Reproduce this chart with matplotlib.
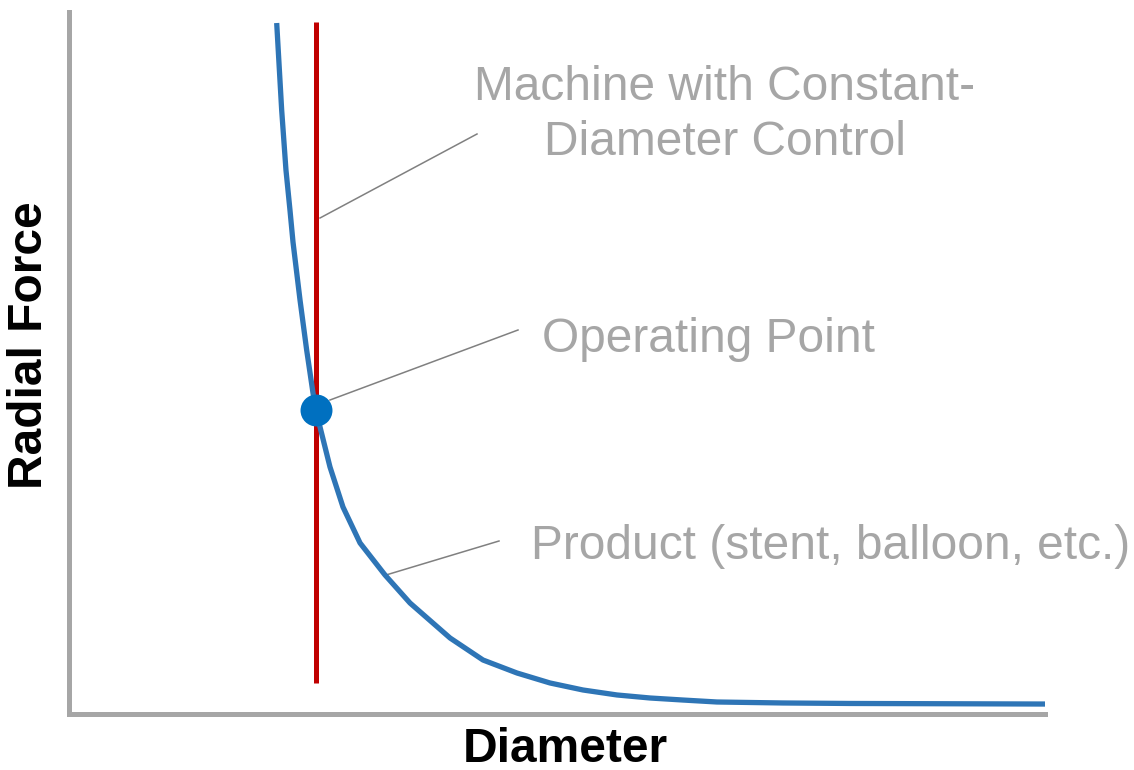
import matplotlib
matplotlib.use("Agg")
import matplotlib.pyplot as plt

plt.rcParams['font.family'] = ['Liberation Sans', 'DejaVu Sans']

# Product curve (diameter vs radial force) (0-100 units)
curve_x = [21.28, 21.79, 22.23, 22.64, 22.95, 23.67, 24.35, 25.0, 25.31, 25.72,
           26.74, 28.07, 29.82, 32.38, 34.94, 39.04, 42.42, 45.90, 49.28, 52.66,
           56.15, 59.53, 62.91, 66.39, 73.16, 80.02, 100.0]
curve_y = [98.43, 86.04, 77.49, 71.79, 67.24, 58.97, 51.85, 45.73, 43.30, 40.88,
           35.19, 29.49, 24.36, 19.80, 15.81, 10.83, 7.69, 5.84, 4.42, 3.42,
           2.71, 2.28, 1.99, 1.71, 1.57, 1.50, 1.42]

# Machine constant-diameter line
machine_x = 25.3
machine_y = [4.4, 98.6]

# Operating point
op_x = 25.3
op_y = 43.3

labels = ["Machine with Constant-", "Diameter Control", "Operating Point",
          "Product (stent, balloon, etc.)"]
x_label = "Diameter"
y_label = "Radial Force"

W, H = 1134, 770
fig = plt.figure(figsize=(W / 100, H / 100), dpi=100)
ax = fig.add_axes([69 / W, (H - 714) / H, (1045 - 69) / W, (714 - 12) / H])
ax.set_xlim(0, 100)
ax.set_ylim(0, 100)

ax.plot([machine_x, machine_x], machine_y, color='#C00000', lw=3.6,
        solid_capstyle='butt', zorder=2)
ax.plot(curve_x, curve_y, color='#2E75B6', lw=3.8, zorder=3,
        solid_joinstyle='round', solid_capstyle='butt')
ax.plot([op_x], [op_y], 'o', color='#0070C0', markersize=23, zorder=4,
        markeredgewidth=0)

gray = '#A6A6A6'
linec = '#808080'

def px2d(px, py):
    return ((px - 69) / (1045 - 69) * 100, (714 - py) / (714 - 12) * 100)

# annotation leader lines
for (a, b) in [((320, 218), (477, 134)), ((330, 400), (518, 330)),
               ((386, 575), (499, 541))]:
    p1 = px2d(*a)
    p2 = px2d(*b)
    ax.plot([p1[0], p2[0]], [p1[1], p2[1]], color=linec, lw=1.1, zorder=1,
            clip_on=False)

fs = 34.5
t = px2d(725, 100)
ax.text(t[0], t[1], labels[0], ha='center', va='baseline', color=gray,
        fontsize=fs, clip_on=False)
t = px2d(725, 155)
ax.text(t[0], t[1], labels[1], ha='center', va='baseline', color=gray,
        fontsize=fs, clip_on=False)
t = px2d(542, 352)
ax.text(t[0], t[1], labels[2], ha='left', va='baseline', color=gray,
        fontsize=fs, clip_on=False)
t = px2d(531, 559)
ax.text(t[0], t[1], labels[3], ha='left', va='baseline', color=gray,
        fontsize=fs, clip_on=False)

for s in ['top', 'right']:
    ax.spines[s].set_visible(False)
for s in ['left', 'bottom']:
    ax.spines[s].set_color('#A6A6A6')
    ax.spines[s].set_linewidth(3.6)
ax.set_xticks([])
ax.set_yticks([])

fig.text(565 / W, 1 - 749 / H, x_label, ha='center', va='center',
         fontsize=fs, fontweight='bold', color='black')
fig.text(30 / W, 1 - 345 / H, y_label, ha='center', va='center',
         fontsize=fs, fontweight='bold', color='black', rotation=90)

fig.savefig('out.png', dpi=100)
